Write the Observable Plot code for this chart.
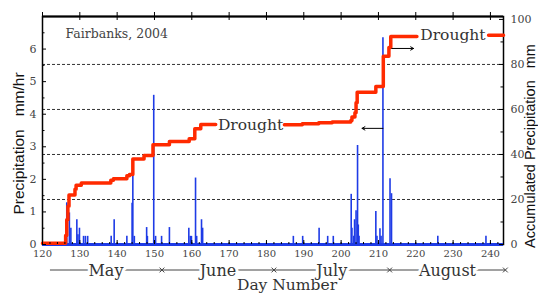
<!DOCTYPE html>
<html><head><meta charset="utf-8">
<script src="https://cdn.jsdelivr.net/npm/d3@7"></script>
<script src="https://cdn.jsdelivr.net/npm/@observablehq/plot@0.6"></script>
<style>
html,body{margin:0;padding:0;background:#fff;}
#chart svg{display:block;}
</style>
</head><body><div id="chart"></div>
<script>
// Precipitation rate (mm/hr) spikes
const rainDay  = [126.5,127.2,127.6,129.2,129.5,129.9,131.0,131.5,132.1,138.4,139.2,142.6,144.0,144.2,144.6,147.9,148.1,149.8,150.3,151.9,154.0,159.2,159.6,159.9,161.0,161.3,162.6,162.9,187.2,189.7,194.1,196.4,197.9,202.7,202.9,203.4,203.6,204.0,204.4,204.6,204.8,209.3,209.6,210.4,210.7,211.2,213.1,213.5,225.9,238.8];
const rainRate = [1.28,0.97,0.5,0.76,0.3,0.5,0.25,0.25,0.25,0.25,0.76,0.25,1.27,2.6,0.25,0.52,0.25,4.58,0.25,0.25,0.52,0.5,0.25,0.25,2.04,0.25,0.76,0.5,0.25,0.25,0.5,0.25,0.25,1.54,0.5,0.25,0.76,1.04,3.04,0.6,0.25,1.01,0.25,0.48,0.25,6.35,2.02,1.56,0.25,0.25];

// Accumulated precipitation (mm), step changes; NaN = gap where "Drought" label sits
const accDay = [120,126.2,126.5,126.8,127.1,128.7,129.0,130.4,138.3,139.0,142.6,143.3,144.2,147.2,149.6,154.0,159.3,160.8,162.4,166.4,166.5,184.8,189.6,194.0,197.6,202.6,202.9,203.7,204.0,204.3,209.3,211.3,212.8,213.3,220.3,220.4,239.5,243.5];
const accMm  = [0.6,4,11,17,22,24.5,26.3,27.3,28.5,29.2,30.5,31.1,38.0,39.5,44.3,45.8,47.0,51.4,53.3,53.3,NaN,53.2,53.6,54.1,54.4,55.1,56.6,58.5,63,67.7,70.2,83.6,87.5,92.4,92.4,NaN,93,93];

const months     = ["May","June","July","August"];
const monthStart = [122,152,182,213];
const monthEnd   = [152,182,213,244];

const xTicks      = [120,130,140,150,160,170,180,190,200,210,220,230,240];
const xMinor      = d3.range(120, 244, 2);
const leftTicks   = [0,1,2,3,4,5,6];
const leftMinor   = [0.5,1.5,2.5,3.5,4.5,5.5,6.5];
const rightTicks  = [0,20,40,60,80,100];
const rightMinor  = [10,30,50,70,90];
const gridMm      = [20,40,60,80];

const droughtDay = [167.0, 221.2];
const droughtMm  = [53.3, 93.0];
const arrowFrom  = [211.2, 213.6];
const arrowTo    = [205.6, 219.4];
const arrowMm    = [51.6, 87.1];

const RIGHT_MAX = 101.3, LEFT_MAX = 7;
const k = LEFT_MAX / RIGHT_MAX; // mm -> left-scale units

const rain = rainDay.map((d,i)=>({day:d, rate:rainRate[i]}));
const acc  = accDay.map((d,i)=>({day:d, v:accMm[i]*k}));
const drought = droughtDay.map((d,i)=>({day:d, v:droughtMm[i]*k}));
const arrows = arrowFrom.map((d,i)=>({x1:d, x2:arrowTo[i], v:arrowMm[i]*k}));
const monthData = months.map((m,i)=>({m, s:monthStart[i], e:monthEnd[i], mid:(monthStart[i]+monthEnd[i])/2}));

const W = 538, H = 294, ML = 42, MR = 35, MT = 16, MB = 50;
const PW = W-ML-MR, PH = H-MT-MB;
const BLUE = "#1e3be6", RED = "#ff2a00";
const serif = "DejaVu Serif", sans = "Liberation Sans, Arial, sans-serif";

const chart = Plot.plot({
  width: W, height: H,
  marginLeft: ML, marginRight: MR, marginTop: MT, marginBottom: MB,
  style: {fontFamily: serif, fontSize: "10px", color: "#444", background: "white", overflow: "visible"},
  x: {domain: [120, 243.5]},
  y: {domain: [0, LEFT_MAX]},
  marks: [
    Plot.ruleY(gridMm, {y: d=>d*k, stroke: "#333", strokeWidth: 1, strokeDasharray: "3,2"}),
    Plot.ruleX(rain, {x: "day", y1: 0, y2: "rate", stroke: BLUE, strokeWidth: 1.6}),
    Plot.frame({stroke: "black", strokeWidth: 1.5}),
    Plot.ruleY([LEFT_MAX], {stroke: "black", strokeWidth: 2}),
    Plot.ruleY([0], {stroke: BLUE, strokeWidth: 3}),
    Plot.line(acc, {x: "day", y: "v", curve: "step-after", stroke: RED, strokeWidth: 3.5}),
    // ticks
    Plot.tickY(leftTicks, {y: d=>d, insetRight: PW-4, stroke: "black"}),
    Plot.tickY(leftMinor, {y: d=>d, insetRight: PW-2.5, stroke: "black"}),
    Plot.tickY(rightTicks, {y: d=>d*k, insetLeft: PW-4, stroke: "black"}),
    Plot.tickY(rightMinor, {y: d=>d*k, insetLeft: PW-2.5, stroke: "black"}),
    Plot.tickX(xTicks, {x: d=>d, insetTop: PH-4, stroke: "black"}),
    Plot.tickX(xMinor, {x: d=>d, insetTop: PH-2, stroke: "black"}),
    Plot.tickX(xTicks, {x: d=>d, insetBottom: PH-4, insetTop: -4, stroke: "black"}),
    // axes labels
    Plot.axisX({ticks: xTicks, tickSize: 0, tickPadding: 5, fontSize: 10, label: null, tickFormat: d=>String(d)}),
    Plot.axisY({anchor: "left", ticks: leftTicks, tickSize: 0, tickPadding: 6, fontSize: 11, label: null, tickFormat: d=>String(d)}),
    Plot.axisY({anchor: "right", ticks: rightTicks.map(v=>v*k), tickFormat: d=>String(Math.round(d/k)), tickSize: 0, tickPadding: 7, fontSize: 11, label: null}),
    // arrows
    Plot.arrow(arrows, {x1: "x1", x2: "x2", y1: "v", y2: "v", headLength: 5, stroke: "black", strokeWidth: 1}),
    // drought labels
    Plot.text(drought, {x: "day", y: "v", text: d=>"Drought", textAnchor: "start", fontSize: 15.5, fill: "#333", fontFamily: serif}),
    // title inside
    Plot.text(["Fairbanks, 2004"], {frameAnchor: "top-left", dx: 23, dy: 13, text: d=>d, textAnchor: "start", lineAnchor: "top", fontSize: 12.5, fill: "#444", fontFamily: serif}),
    // month line
    Plot.link([{s: 122, e: 244}], {x1: "s", x2: "e", y1: 0, y2: 0, dy: 25.5, stroke: "#444", strokeWidth: 1}),
    Plot.dot(monthEnd, {x: d=>d, y: 0, dy: 25.5, symbol: "times", r: 2.3, stroke: "#444", strokeWidth: 1}),
    Plot.text(monthData, {x: "mid", y: 0, dy: 26, text: "m", fontSize: 16, fill: "white", stroke: "white", strokeWidth: 6, fontFamily: serif}),
    Plot.text(monthData, {x: "mid", y: 0, dy: 26, text: "m", fontSize: 16, fill: "#333", fontFamily: serif}),
    Plot.text(["Day Number"], {frameAnchor: "bottom", dx: 14, dy: 40.5, text: d=>d, textAnchor: "middle", lineAnchor: "middle", fontSize: 15.5, fill: "#333", fontFamily: serif}),
    // axis titles
    Plot.text(["Precipitation\u00a0\u00a0\u00a0mm/hr"], {frameAnchor: "left", dx: -23, dy: 13, rotate: -90, text: d=>d, textAnchor: "middle", lineAnchor: "middle", fontSize: 15.5, fill: "#111", fontFamily: sans}),
    Plot.text(["Accumulated Precipitation\u00a0\u00a0\u00a0mm"], {frameAnchor: "right", dx: 26.5, dy: 15.5, rotate: -90, text: d=>d, textAnchor: "middle", lineAnchor: "middle", fontSize: 14.5, fill: "#111", fontFamily: sans})
  ]
});
document.getElementById("chart").appendChild(chart);
</script>
</body></html>
